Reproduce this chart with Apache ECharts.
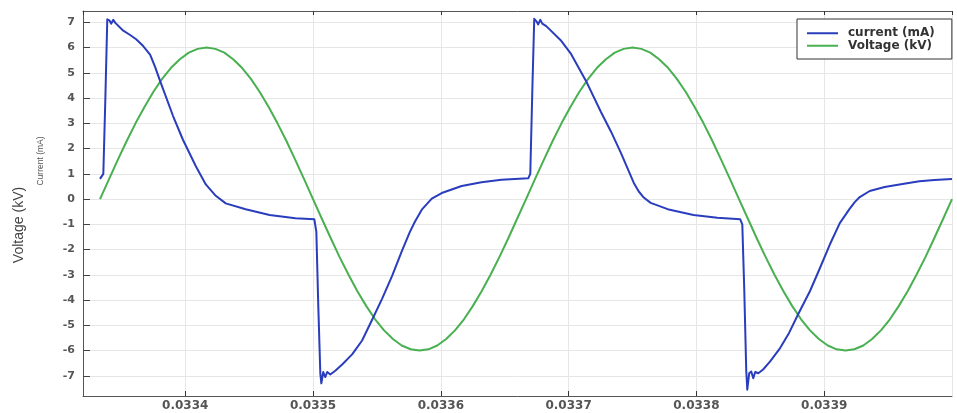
<!DOCTYPE html>
<html>
<head>
<meta charset="utf-8">
<script src="https://cdn.jsdelivr.net/npm/echarts@6/dist/echarts.min.js"></script>
<style>
  html, body { margin: 0; padding: 0; background: #ffffff; }
  #chart { width: 957px; height: 413px; }
</style>
</head>
<body>
<div id="chart"></div>
<script>
// Applied voltage (kV), two cycles at 3 kHz, one sample every 7.5 degrees
const voltageTime = [
  0.0333333, 0.0333403, 0.0333472, 0.0333542, 0.0333611, 0.0333681, 0.0333750, 0.0333819,
  0.0333889, 0.0333958, 0.0334028, 0.0334097, 0.0334167, 0.0334236, 0.0334306, 0.0334375,
  0.0334444, 0.0334514, 0.0334583, 0.0334653, 0.0334722, 0.0334792, 0.0334861, 0.0334931,
  0.0335000, 0.0335069, 0.0335139, 0.0335208, 0.0335278, 0.0335347, 0.0335417, 0.0335486,
  0.0335556, 0.0335625, 0.0335694, 0.0335764, 0.0335833, 0.0335903, 0.0335972, 0.0336042,
  0.0336111, 0.0336181, 0.0336250, 0.0336319, 0.0336389, 0.0336458, 0.0336528, 0.0336597,
  0.0336667, 0.0336736, 0.0336806, 0.0336875, 0.0336944, 0.0337014, 0.0337083, 0.0337153,
  0.0337222, 0.0337292, 0.0337361, 0.0337431, 0.0337500, 0.0337569, 0.0337639, 0.0337708,
  0.0337778, 0.0337847, 0.0337917, 0.0337986, 0.0338056, 0.0338125, 0.0338194, 0.0338264,
  0.0338333, 0.0338403, 0.0338472, 0.0338542, 0.0338611, 0.0338681, 0.0338750, 0.0338819,
  0.0338889, 0.0338958, 0.0339028, 0.0339097, 0.0339167, 0.0339236, 0.0339306, 0.0339375,
  0.0339444, 0.0339514, 0.0339583, 0.0339653, 0.0339722, 0.0339792, 0.0339861, 0.0339931,
  0.0340000
];
const voltageKV = [
  0, 0.78, 1.55, 2.3, 3.0, 3.65, 4.24, 4.76,
  5.2, 5.54, 5.8, 5.95, 6.0, 5.95, 5.8, 5.54,
  5.2, 4.76, 4.24, 3.65, 3.0, 2.3, 1.55, 0.78,
  0, -0.78, -1.55, -2.3, -3.0, -3.65, -4.24, -4.76,
  -5.2, -5.54, -5.8, -5.95, -6.0, -5.95, -5.8, -5.54,
  -5.2, -4.76, -4.24, -3.65, -3.0, -2.3, -1.55, -0.78,
  0, 0.78, 1.55, 2.3, 3.0, 3.65, 4.24, 4.76,
  5.2, 5.54, 5.8, 5.95, 6.0, 5.95, 5.8, 5.54,
  5.2, 4.76, 4.24, 3.65, 3.0, 2.3, 1.55, 0.78,
  0, -0.78, -1.55, -2.3, -3.0, -3.65, -4.24, -4.76,
  -5.2, -5.54, -5.8, -5.95, -6.0, -5.95, -5.8, -5.54,
  -5.2, -4.76, -4.24, -3.65, -3.0, -2.3, -1.55, -0.78,
  0
];

// Discharge current (mA)
const currentTime = [
  // first cycle: positive pulse and decay
  0.0333333, 0.0333359, 0.0333375, 0.0333390, 0.0333406, 0.0333421, 0.0333437,
  0.0333453, 0.0333515, 0.0333569, 0.0333616, 0.0333671, 0.0333725, 0.0333764,
  0.0333803, 0.0333904, 0.0333982, 0.0334083, 0.0334161, 0.0334239, 0.0334317,
  0.0334473, 0.0334660, 0.0334862,
  // negative pulse and recovery
  0.0335010, 0.0335026, 0.0335041, 0.0335057, 0.0335065, 0.0335080, 0.0335096,
  0.0335111, 0.0335135, 0.0335174, 0.0335228, 0.0335306, 0.0335384, 0.0335470,
  0.0335540, 0.0335618, 0.0335695, 0.0335758, 0.0335797, 0.0335851, 0.0335929,
  0.0336007, 0.0336163, 0.0336318, 0.0336474,
  // second cycle: positive pulse and decay
  0.0336685, 0.0336700, 0.0336716, 0.0336731, 0.0336747, 0.0336762, 0.0336778,
  0.0336794, 0.0336825, 0.0336942, 0.0337019, 0.0337136, 0.0337253, 0.0337331,
  0.0337409, 0.0337510, 0.0337549, 0.0337588, 0.0337642, 0.0337775, 0.0337977,
  0.0338164,
  // negative pulse and recovery
  0.0338343, 0.0338359, 0.0338374, 0.0338390, 0.0338398, 0.0338413, 0.0338429,
  0.0338445, 0.0338460, 0.0338484, 0.0338522, 0.0338577, 0.0338655, 0.0338725,
  0.0338795, 0.0338888, 0.0338966, 0.0339044, 0.0339122, 0.0339200, 0.0339239,
  0.0339278, 0.0339356, 0.0339473, 0.0339589, 0.0339745, 0.0339862, 0.0340000
];
const currentMA = [
  0.8, 1.0, 4.0, 7.12, 7.08, 6.95, 7.1,
  6.98, 6.67, 6.5, 6.33, 6.06, 5.72, 5.24,
  4.68, 3.3, 2.35, 1.3, 0.58, 0.13, -0.17,
  -0.4, -0.63, -0.76,
  -0.8, -1.3, -4.2, -6.9, -7.3, -6.85, -7.05,
  -6.85, -6.95, -6.8, -6.55, -6.15, -5.6, -4.7,
  -3.95, -3.05, -2.06, -1.3, -0.9, -0.42, 0.02,
  0.24, 0.52, 0.67, 0.77,
  0.83, 1.0, 4.3, 7.14, 7.05, 6.92, 7.1,
  6.95, 6.85, 6.27, 5.75, 4.68, 3.45, 2.68,
  1.83, 0.64, 0.3, 0.06, -0.15, -0.4, -0.63,
  -0.74,
  -0.8, -1.0, -3.5, -6.8, -7.55, -6.9, -6.83,
  -7.1, -6.85, -6.9, -6.75, -6.43, -5.9, -5.3,
  -4.57, -3.65, -2.74, -1.8, -0.95, -0.38, -0.12,
  0.08, 0.32, 0.48, 0.58, 0.71, 0.76, 0.8
];

const seriesNames = ['current (mA)', 'Voltage (kV)'];
const seriesColors = ['#2a3dbd', '#49b051'];
const timeRange = [0.03332, 0.034];
const valueRange = [-7.8, 7.45];

function toPairs(xs, ys) {
  return xs.map(function (x, i) { return [x, ys[i]]; });
}

const chart = echarts.init(document.getElementById('chart'), null, { renderer: 'canvas' });

const labelFont = {
  color: '#555555',
  fontFamily: 'DejaVu Sans',
  fontWeight: 'bold'
};

chart.setOption({
  animation: false,
  backgroundColor: '#ffffff',
  grid: { left: 83, top: 11, right: 5, bottom: 17, containLabel: false },
  legend: {
    orient: 'vertical',
    left: 797,
    top: 19,
    padding: [8, 17, 7, 10],
    itemGap: 0,
    itemWidth: 31,
    itemHeight: 2,
    icon: 'rect',
    backgroundColor: '#ffffff',
    borderColor: '#333333',
    borderWidth: 1,
    borderRadius: 0,
    data: seriesNames,
    textStyle: {
      color: '#333333',
      fontFamily: 'DejaVu Sans',
      fontWeight: 'bold',
      fontSize: 12,
      lineHeight: 12.5,
      padding: [0, 0, 0, 5]
    }
  },
  xAxis: [
    {
      type: 'value',
      position: 'bottom',
      min: timeRange[0],
      max: timeRange[1],
      splitNumber: 7,
      axisLine: { show: true, onZero: false, lineStyle: { color: '#555555', width: 1 } },
      axisTick: { show: true, inside: true, length: 5, lineStyle: { color: '#333333' } },
      axisLabel: Object.assign({ margin: 4, fontSize: 12, showMinLabel: false, showMaxLabel: false }, labelFont),
      splitLine: { show: true, lineStyle: { color: '#e6e6e6', width: 1 } }
    },
    {
      type: 'value',
      position: 'top',
      min: timeRange[0],
      max: timeRange[1],
      splitNumber: 7,
      axisLine: { show: true, onZero: false, lineStyle: { color: '#555555', width: 1 } },
      axisTick: { show: true, inside: true, length: 4, lineStyle: { color: '#333333' } },
      axisLabel: { show: false },
      splitLine: { show: false }
    }
  ],
  yAxis: {
    type: 'value',
    min: valueRange[0],
    max: valueRange[1],
    splitNumber: 15,
    axisLine: { show: true, onZero: false, lineStyle: { color: '#555555', width: 1 } },
    axisTick: { show: true, inside: true, length: 7, lineStyle: { color: '#444444' } },
    axisLabel: Object.assign({ margin: 8, fontSize: 11, showMinLabel: false, showMaxLabel: false }, labelFont),
    splitLine: { show: true, lineStyle: { color: '#e6e6e6', width: 1 } }
  },
  graphic: [
    {
      type: 'text',
      x: 19,
      y: 225,
      rotation: Math.PI / 2,
      style: {
        text: 'Voltage (kV)',
        fill: '#444444',
        font: '14px "Liberation Sans", Arial, sans-serif',
        align: 'center',
        verticalAlign: 'middle'
      }
    },
    {
      type: 'text',
      x: 40.5,
      y: 161,
      rotation: Math.PI / 2,
      style: {
        text: 'Current (mA)',
        fill: '#555555',
        font: '8.5px "Liberation Sans", Arial, sans-serif',
        align: 'center',
        verticalAlign: 'middle'
      }
    }
  ],
  series: [
    {
      name: seriesNames[0],
      type: 'line',
      xAxisIndex: 0,
      data: toPairs(currentTime, currentMA),
      showSymbol: false,
      smooth: false,
      lineStyle: { color: seriesColors[0], width: 2, join: 'round' },
      itemStyle: { color: seriesColors[0] },
      z: 3
    },
    {
      name: seriesNames[1],
      type: 'line',
      xAxisIndex: 0,
      data: toPairs(voltageTime, voltageKV),
      showSymbol: false,
      smooth: false,
      lineStyle: { color: seriesColors[1], width: 2, join: 'round' },
      itemStyle: { color: seriesColors[1] },
      z: 2
    }
  ]
});
</script>
</body>
</html>
